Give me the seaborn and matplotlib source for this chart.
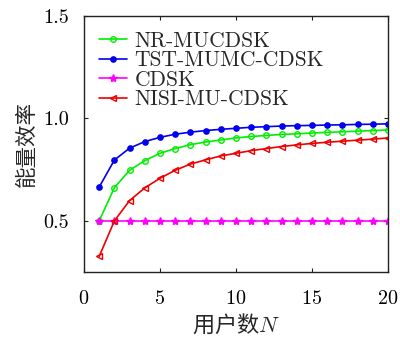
import numpy as np
import pandas as pd
import matplotlib
matplotlib.use("Agg")
import matplotlib.pyplot as plt
import seaborn as sns

sns.set_style("ticks")
plt.rcParams["font.family"] = ["cmr10", "Noto Sans CJK SC", "DejaVu Sans"]
plt.rcParams["mathtext.fontset"] = "cm"
plt.rcParams["axes.formatter.use_mathtext"] = True
plt.rcParams["axes.unicode_minus"] = False

users = list(range(1, 21))
nr_mucdsk = [0.500, 0.662, 0.747, 0.794, 0.830, 0.853, 0.872, 0.885, 0.895, 0.905,
             0.912, 0.917, 0.922, 0.925, 0.929, 0.932, 0.935, 0.938, 0.941, 0.944]
tst_mumc_cdsk = [0.665, 0.797, 0.855, 0.887, 0.908, 0.923, 0.933, 0.941, 0.947, 0.952,
                 0.957, 0.960, 0.963, 0.965, 0.966, 0.968, 0.969, 0.971, 0.972, 0.974]
cdsk = [0.5] * 20
nisi_mu_cdsk = [0.326, 0.500, 0.599, 0.661, 0.708, 0.747, 0.777, 0.798, 0.817, 0.830,
                0.843, 0.853, 0.863, 0.871, 0.878, 0.884, 0.889, 0.894, 0.899, 0.905]

series_names = ["NR-MUCDSK", "TST-MUMC-CDSK", "CDSK", "NISI-MU-CDSK"]
series_values = [nr_mucdsk, tst_mumc_cdsk, cdsk, nisi_mu_cdsk]
colors = ["#00ee00", "#0000ee", "#ff00ff", "#ee0000"]
markers = ["o", "o", "*", "<"]
fills = ["none", None, None, "none"]
sizes = [4, 3.8, 6, 5]

df = pd.DataFrame({
    "N": users * len(series_names),
    "eff": sum(series_values, []),
    "scheme": sum([[n] * len(users) for n in series_names], []),
})

fig = plt.figure(figsize=(4.0, 3.43), dpi=100)
ax = fig.add_axes([0.21, 0.207, 0.76, 0.746])

for name, col, mk, fc, ms in zip(series_names, colors, markers, fills, sizes):
    sub = df[df["scheme"] == name]
    kw = dict(marker=mk, markersize=ms, markeredgecolor=col, markeredgewidth=1.0)
    kw["markerfacecolor"] = "none" if fc == "none" else col
    sns.lineplot(data=sub, x="N", y="eff", ax=ax, color=col, linewidth=1.2,
                 label=name, **kw)

ax.set_xlim(0, 20)
ax.set_ylim(0.25, 1.5)
ax.set_xticks([0, 5, 10, 15, 20])
ax.set_yticks([0.5, 1.0, 1.5])
ax.set_yticklabels(["0.5", "1.0", "1.5"])
ax.tick_params(direction="in", length=3, width=0.8, top=True, right=True,
               labelsize=14.5, colors="#222222", labelcolor="black")
ax.tick_params(axis="x", pad=13)
ax.tick_params(axis="y", pad=11)
for s in ax.spines.values():
    s.set_linewidth(1.0)
    s.set_color("#222222")

ax.set_xlabel("用户数$N$", fontsize=16, family=["Noto Sans CJK SC"], labelpad=3)
ax.set_ylabel("能量效率", fontsize=15.5, family=["Noto Sans CJK SC"], labelpad=4)

leg = ax.legend(loc="upper left", frameon=False, fontsize=15.5, handlelength=1.3,
                handletextpad=0.35, labelspacing=0.0, borderaxespad=0.3,
                bbox_to_anchor=(0.0, 1.0))

fig.savefig("out.png", dpi=100)
